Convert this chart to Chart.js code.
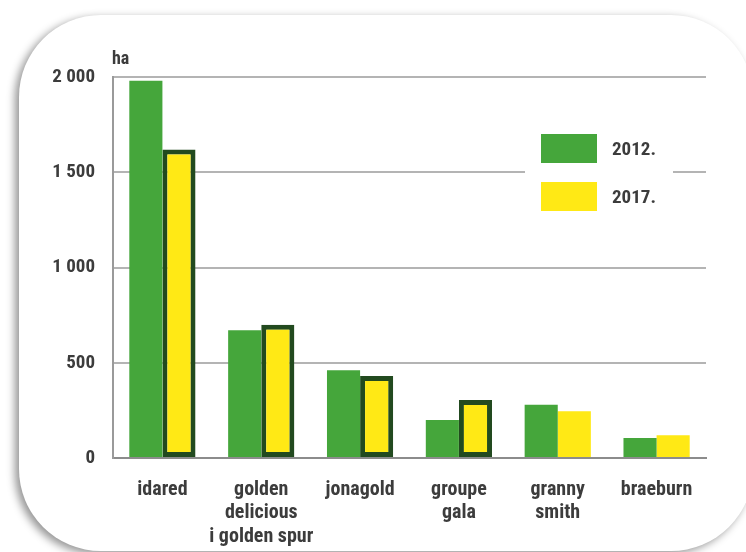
<!DOCTYPE html>
<html>
<head>
<meta charset="utf-8">
<script src="https://cdn.jsdelivr.net/npm/chart.js@4"></script>
<style>
  html, body { margin: 0; padding: 0; background: #fff; }
  body { width: 746px; height: 552px; position: relative; overflow: hidden; }
  .card {
    position: absolute; left: 19px; top: 15px; width: 734px; height: 536px;
    border-radius: 82px; background: #fff;
    box-shadow: -4px 3px 8px rgba(0,0,0,0.42);
  }
  #wrap { position: absolute; left: 0; top: 0; width: 746px; height: 552px; }
</style>
</head>
<body>
<div class="card"></div>
<div id="wrap"><canvas id="apples"></canvas></div>
<script>
const categories = [["idared"], ["golden", "delicious", "i golden spur"], ["jonagold"], ["groupe", "gala"], ["granny", "smith"], ["braeburn"]];
const values2012 = [1980, 670, 460, 200, 280, 105];
const values2017 = [1620, 700, 430, 305, 245, 120];
const seriesNames = ["2012.", "2017."];
const unitLabel = "ha";

const FONT = '"Roboto Condensed", "DejaVu Sans Condensed", sans-serif';
const GREEN = "#45a63b";
const YELLOW = "#ffe915";
const DARK = "#224a1f";
const TEXT = "#3c3c3c";

function spaced(v) {
    return String(v).replace(/\B(?=(\d{3})+(?!\d))/g, " ");
}

// legend box inside the plot + unit label
const extras = {
    id: "extras",
    afterDatasetsDraw(chart) {
        const c = chart.ctx;
        const a = chart.chartArea;
        c.save();
        c.fillStyle = "#fff";
        c.fillRect(a.left + 412, a.top + 45, 148, 100);
        chart.data.datasets.forEach((ds, i) => {
            const y = a.top + 57 + i * 48;
            c.fillStyle = ds.backgroundColor;
            c.fillRect(a.left + 428, y, 56, 29);
            c.fillStyle = TEXT;
            c.font = "bold 19px " + FONT;
            c.textBaseline = "middle";
            c.fillText(ds.label, a.left + 499, y + 16);
        });
        c.font = "bold 18px " + FONT;
        c.fillStyle = TEXT;
        c.textBaseline = "middle";
        c.fillText(unitLabel, a.left - 1, a.top - 18);
        c.restore();
    }
};

new Chart(document.getElementById("apples"), {
    type: "bar",
    data: {
        labels: categories,
        datasets: [
            { label: seriesNames[0], data: values2012, backgroundColor: GREEN, borderWidth: 0 },
            { label: seriesNames[1], data: values2017, backgroundColor: YELLOW,
              borderColor: DARK, borderWidth: [5, 5, 5, 5, 0, 0], borderSkipped: false }
        ]
    },
    options: {
        responsive: true, maintainAspectRatio: false, animation: false,
        layout: { padding: { left: 0, right: 40, top: 77, bottom: 0 } },
        datasets: { bar: { categoryPercentage: 0.67, barPercentage: 1 } },
        plugins: { legend: { display: false }, tooltip: { enabled: false } },
        scales: {
            x: {
                grid: { display: false },
                border: { display: true, color: "#8c8c8c", width: 2 },
                ticks: { color: TEXT, font: { family: FONT, size: 20, weight: "bold", lineHeight: 1.18 }, padding: 12, maxRotation: 0, autoSkip: false },
                afterFit: s => { s.height = 94; }
            },
            y: {
                min: 0, max: 2000,
                grid: { color: "#b4b4b4", lineWidth: 2, drawTicks: false },
                border: { display: true, color: "#9a9a9a", width: 2 },
                ticks: { stepSize: 500, color: TEXT, font: { family: FONT, size: 19, weight: "bold" }, padding: 18, callback: v => spaced(v) },
                afterFit: s => { s.width = 113; }
            }
        }
    },
    plugins: [extras]
});
</script>
</body>
</html>
